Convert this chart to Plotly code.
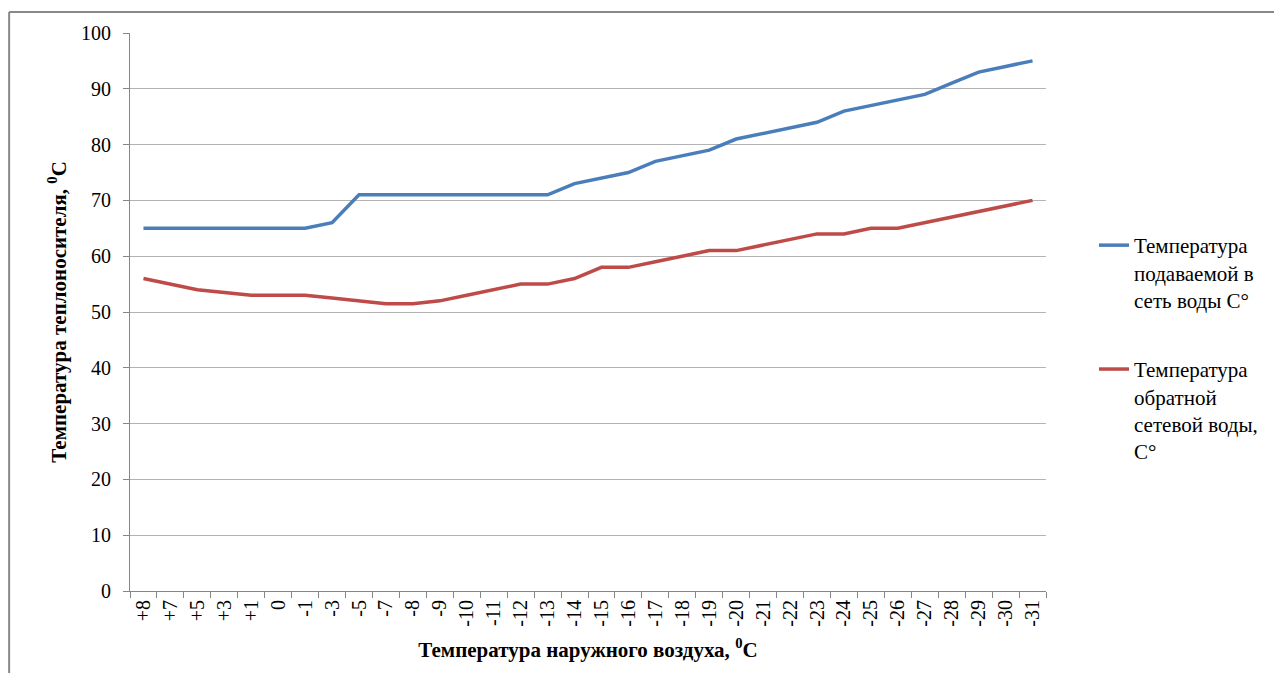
import plotly.graph_objects as go

# Outdoor air temperature categories (x axis)
outdoor_temp = ["+8", "+7", "+5", "+3", "+1", "0", "-1", "-3", "-5", "-7",
                "-8", "-9", "-10", "-11", "-12", "-13", "-14", "-15", "-16", "-17",
                "-18", "-19", "-20", "-21", "-22", "-23", "-24", "-25", "-26", "-27",
                "-28", "-29", "-30", "-31"]

# Supply water temperature
supply_temp = [65, 65, 65, 65, 65, 65, 65, 66, 71, 71,
               71, 71, 71, 71, 71, 71, 73, 74, 75, 77,
               78, 79, 81, 82, 83, 84, 86, 87, 88, 89,
               91, 93, 94, 95]

# Return water temperature
return_temp = [56, 55, 54, 53.5, 53, 53, 53, 52.5, 52, 51.5,
               51.5, 52, 53, 54, 55, 55, 56, 58, 58, 59,
               60, 61, 61, 62, 63, 64, 64, 65, 65, 66,
               67, 68, 69, 70]

y_ticks = [0, 10, 20, 30, 40, 50, 60, 70, 80, 90, 100]

supply_name = "Температура<br>подаваемой в<br>сеть воды С°"
return_name = "Температура<br>обратной<br>сетевой воды,<br>С°"

FONT = "Times New Roman, Liberation Serif, serif"

fig = go.Figure()
fig.add_trace(go.Scatter(
    x=outdoor_temp, y=supply_temp, mode="lines", name=supply_name,
    legendgroup="a", line=dict(color="#4A7EBB", width=3.5),
))
fig.add_trace(go.Scatter(
    x=outdoor_temp, y=return_temp, mode="lines", name=return_name,
    legendgroup="b", line=dict(color="#BE4B48", width=3.5),
))

W, H = 1274, 673
L, R, T, B = 130, 227, 33, 82
pw, ph = W - L - R, H - T - B

def px_x(x):
    return (x - L) / pw

def px_y(y):
    return (H - B - y) / ph

fig.update_layout(
    width=W, height=H,
    margin=dict(l=L, r=R, t=T, b=B),
    paper_bgcolor="white", plot_bgcolor="white",
    font=dict(family=FONT, color="#000000"),
    showlegend=True,
    legend=dict(
        x=px_x(1094), y=px_y(225), xanchor="left", yanchor="top",
        font=dict(family=FONT, size=21, color="#000000"),
        valign="top", tracegroupgap=39, bgcolor="rgba(0,0,0,0)",
    ),
    xaxis=dict(
        type="category", tickangle=-90, tickson="boundaries",
        ticks="outside", ticklen=6, tickcolor="#868686",
        showline=True, linecolor="#868686", linewidth=1,
        showgrid=False, zeroline=False,
        tickfont=dict(family=FONT, size=20, color="#000000"),
        title=dict(text="<b>Температура наружного воздуха, <sup>0</sup>С</b>",
                   font=dict(family=FONT, size=21, color="#000000"), standoff=16),
        range=[-0.5, len(outdoor_temp) - 0.5],
    ),
    yaxis=dict(
        range=[0, 100], tickvals=y_ticks,
        ticks="outside", ticklen=6, tickcolor="#868686",
        showline=True, linecolor="#868686", linewidth=1,
        showgrid=True, gridcolor="#B3B3B3", gridwidth=1,
        zeroline=False,
        tickfont=dict(family=FONT, size=20, color="#000000"),
        ticklabelstandoff=8,
        title=dict(text="<b>Температура теплоносителя, <sup>0</sup>С</b>",
                   font=dict(family=FONT, size=21, color="#000000"), standoff=8),
    ),
    shapes=[
        dict(type="line", xref="paper", yref="paper",
             x0=px_x(9), x1=px_x(1300), y0=px_y(12), y1=px_y(12),
             line=dict(color="#888888", width=2)),
        dict(type="line", xref="paper", yref="paper",
             x0=px_x(9), x1=px_x(9), y0=px_y(12), y1=px_y(700),
             line=dict(color="#888888", width=2)),
    ],
)

fig.write_html("out.html")
